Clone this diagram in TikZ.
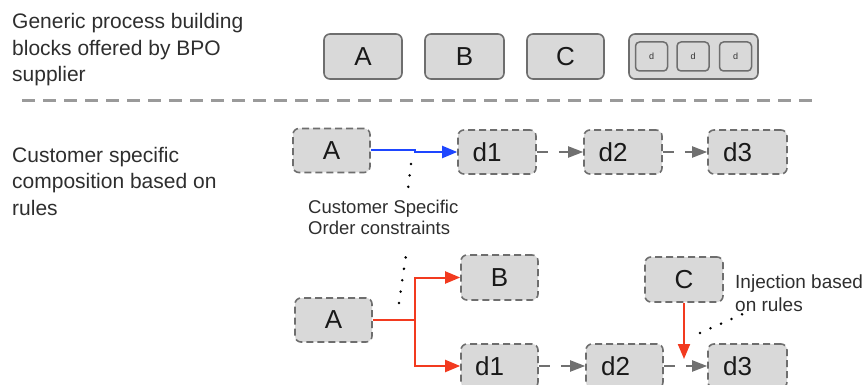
\documentclass[tikz,border=0pt]{standalone}
\usepackage{fontspec}
\setmainfont{Liberation Sans}
\usetikzlibrary{arrows.meta}
\definecolor{boxfill}{HTML}{D9D9D9}
\definecolor{boxline}{HTML}{6E6E6E}
\definecolor{arrgray}{HTML}{707070}
\definecolor{myred}{HTML}{F23A1F}
\definecolor{myblue}{HTML}{1E46FF}
\definecolor{txt}{HTML}{2E2E2E}
\definecolor{sepgray}{HTML}{9A9A9A}
\begin{document}
\begin{tikzpicture}[x=1pt,y=-1pt,
  solidbox/.style={draw=boxline, fill=boxfill, line width=1.6pt, rounded corners=6pt,
    minimum height=45pt, inner sep=0pt, font=\fontsize{26}{30}\selectfont, text=black!90},
  dashbox/.style={solidbox, dash pattern=on 7pt off 4pt},
  smallbox/.style={draw=boxline, fill=boxfill, line width=1.5pt, rounded corners=4pt,
    minimum width=32pt, minimum height=29pt, inner sep=0pt, font=\fontsize{9}{10}\selectfont, text=black!80},
  sidetext/.style={anchor=west, align=left, inner sep=0pt, text=txt, font=\fontsize{21}{26.5}\selectfont},
  notetext/.style={anchor=west, align=left, inner sep=0pt, text=txt, font=\fontsize{18.5}{21.5}\selectfont},
  graylink/.style={draw=arrgray, line width=2pt, dash pattern=on 11pt off 11pt,
    -{Triangle[length=15pt,width=11pt]}, arrgray},
  redlink/.style={draw=myred, line width=2pt, -{Triangle[length=15pt,width=12pt]}},
  bluelink/.style={draw=myblue, line width=2pt, -{Triangle[length=15pt,width=12pt]}},
  dotline/.style={draw=black, line width=2.8pt, dash pattern=on 0pt off 11.5pt, line cap=round},
  sepline/.style={draw=sepgray, line width=3pt, dash pattern=on 13pt off 8pt}
]
\useasboundingbox (0,0) rectangle (865,385);

% left texts
\node[sidetext] (gen) at (12,50) {Generic process building\\blocks offered by BPO\\supplier};
\node[sidetext] (cust) at (12,181) {Customer specific\\composition based on\\rules};

% separator
\coordinate (sepL) at (22,101);
\coordinate (sepR) at (812,101);
\draw[sepline] (sepL) -- (sepR);

% top row
\node[solidbox, minimum width=78pt] (tA) at (363,56.5) {A};
\node[solidbox, minimum width=79pt] (tB) at (464.5,56.5) {B};
\node[solidbox, minimum width=77pt] (tC) at (565.5,56.5) {C};
\node[solidbox, minimum width=129pt] (tD) at (693.5,56.5) {};
\node[smallbox] (td1) at (651.5,56.5) {d};
\node[smallbox] (td2) at (693,56.5) {d};
\node[smallbox] (td3) at (735.5,56.5) {d};

% second row
\node[dashbox, minimum width=77pt, minimum height=44pt] (A2) at (331.5,150.5) {A};
\node[dashbox, minimum width=78pt, minimum height=44pt] (d1) at (497,152) {d1\hspace*{20pt}};
\node[dashbox, minimum width=78pt, minimum height=44pt] (d2) at (623,152) {d2\hspace*{20pt}};
\node[dashbox, minimum width=79pt, minimum height=44pt] (d3) at (747.5,152) {d3\hspace*{20pt}};
\coordinate (bj) at (415,150.5);
\draw[bluelink] (A2.east) -- (bj) |- (d1.west);
\draw[graylink] (d1.east) -- (d2.west);
\draw[graylink] (d2.east) -- (d3.west);

\node[notetext] (cso) at (308,217.5) {Customer Specific\\Order constraints};
\coordinate (dotA) at (411,164);
\coordinate (dotB) at (408,189);
\draw[dotline] (dotA) -- (dotB);

% third row
\node[dashbox, minimum width=77pt, minimum height=44pt] (A3) at (333.5,320) {A};
\node[dashbox, minimum width=77pt] (B3) at (499.5,277.5) {B};
\node[dashbox, minimum width=78pt] (C3) at (684,279.5) {C};
\node[dashbox, minimum width=77pt, minimum height=44pt] (e1) at (499.5,366) {d1\hspace*{20pt}};
\node[dashbox, minimum width=77pt, minimum height=44pt] (e2) at (624.5,366) {d2\hspace*{18pt}};
\node[dashbox, minimum width=79pt, minimum height=44pt] (e3) at (747.5,366) {d3\hspace*{20pt}};

\coordinate (rj) at (415,320);
\draw[redlink] (A3.east) -- (rj) |- (B3.west);
\draw[redlink] (A3.east) -- (rj) |- (e1.west);
\draw[graylink] (e1.east) -- (e2.west);
\draw[graylink] (e2.east) -- (e3.west);
\coordinate (inj) at (684,359);
\draw[redlink] (C3.south) -- (inj);

\coordinate (dotC) at (399,303);
\coordinate (dotD) at (406,255);
\draw[dotline] (dotC) -- (dotD);

\node[notetext, font=\fontsize{19}{23}\selectfont] (injt) at (735,293.5) {Injection based\\on rules};
\coordinate (dotE) at (700,333);
\coordinate (dotF) at (745,313);
\draw[dotline] (dotE) -- (dotF);
\end{tikzpicture}
\end{document}
